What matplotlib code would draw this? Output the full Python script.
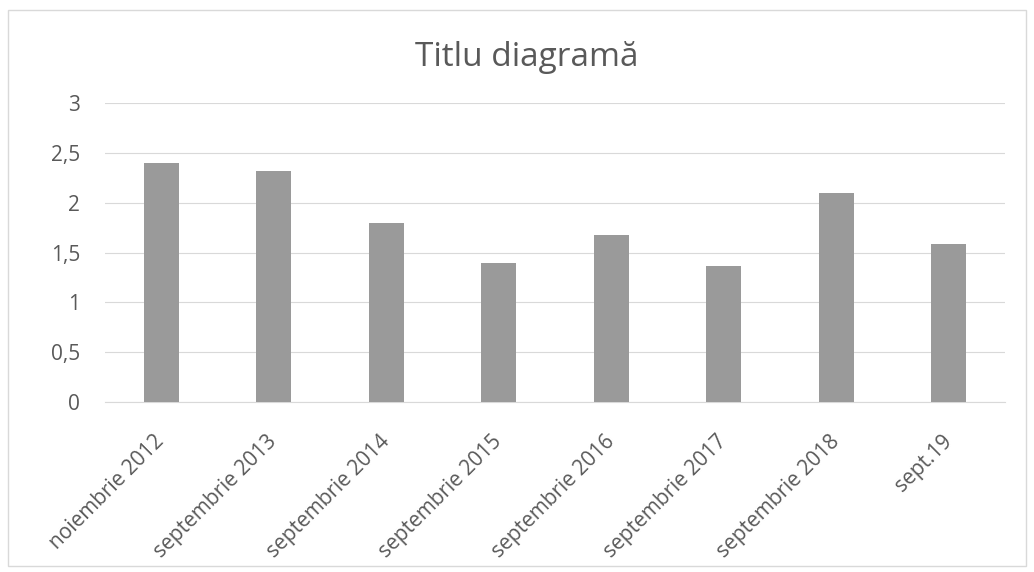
import matplotlib
matplotlib.use("Agg")
import matplotlib.pyplot as plt
from matplotlib.patches import Rectangle
from matplotlib.ticker import FuncFormatter, MultipleLocator

categories = ["noiembrie 2012", "septembrie 2013", "septembrie 2014", "septembrie 2015",
              "septembrie 2016", "septembrie 2017", "septembrie 2018", "sept.19"]
values = [2.40, 2.32, 1.80, 1.39, 1.68, 1.36, 2.10, 1.59]
title = "Titlu diagramă"

plt.rcParams['font.family'] = ['Open Sans', 'DejaVu Sans']

fig = plt.figure(figsize=(10.34, 5.72), dpi=100)
ax = fig.add_axes([105/1034, 1 - 402/572, (1005-105)/1034, (402-103)/572])

x = list(range(len(categories)))
ax.bar(x, values, width=0.31, color="#9a9a9a", zorder=3)
ax.set_xlim(-0.5, len(categories) - 0.5)
ax.set_ylim(0, 3)
ax.yaxis.set_major_locator(MultipleLocator(0.5))
ax.yaxis.set_major_formatter(FuncFormatter(lambda v, p: ("%g" % v).replace(".", ",")))
ax.grid(axis="y", color="#d9d9d9", linewidth=0.8, zorder=0)
for s in ["top", "right", "left"]:
    ax.spines[s].set_visible(False)
ax.spines["bottom"].set_color("#d9d9d9")
ax.tick_params(axis="both", length=0, colors="#595959", labelsize=15)
ax.tick_params(axis="y", pad=18)
ax.tick_params(axis="x", pad=26)
ax.set_xticks(x)
ax.set_xticklabels(categories, rotation=45, ha="right", va="center", rotation_mode="anchor")

fig.text(527/1034, 1 - 58/572, title, ha="center", va="center", fontsize=24, color="#595959")
fig.patches.append(Rectangle((8/1034, 0.01), 1 - 16/1034, 1 - 10/572 - 0.01,
                             transform=fig.transFigure, fill=False, edgecolor="#d9d9d9", linewidth=1))

fig.savefig("out.png", dpi=100)
